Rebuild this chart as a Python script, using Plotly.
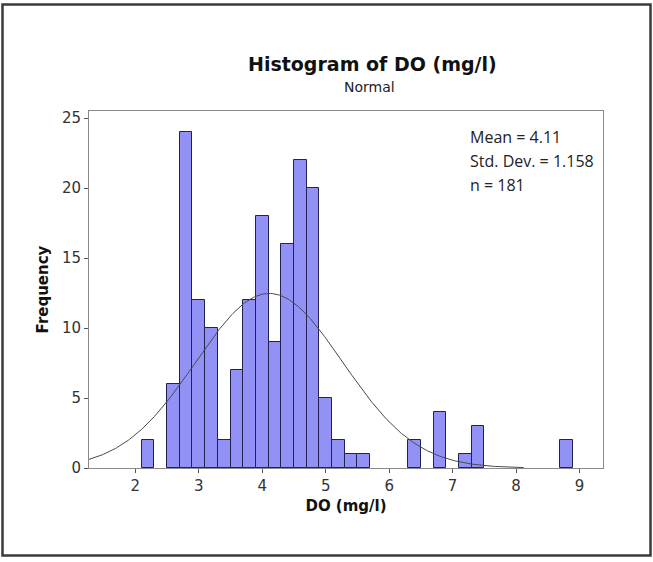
import numpy as np
import plotly.graph_objects as go

# ---- data ----
bin_centers = [2.2, 2.6, 2.8, 3.0, 3.2, 3.4, 3.6, 3.8, 4.0, 4.2, 4.4, 4.6, 4.8,
               5.0, 5.2, 5.4, 5.6, 6.4, 6.8, 7.2, 7.4, 8.8]
counts = [2, 6, 24, 12, 10, 2, 7, 12, 18, 9, 16, 22, 20,
          5, 2, 1, 1, 2, 4, 1, 3, 2]
BIN_WIDTH = 0.2
MEAN = 4.11
SD = 1.158
N = 181
x_ticks = [2, 3, 4, 5, 6, 7, 8, 9]
y_ticks = [0, 5, 10, 15, 20, 25]
CURVE_START, CURVE_END = 1.27, 8.12

# fitted normal curve (from the stated mean / sd / n)
cx = np.linspace(CURVE_START, CURVE_END, 300)
cy = N * BIN_WIDTH * np.exp(-0.5 * ((cx - MEAN) / SD) ** 2) / (SD * np.sqrt(2 * np.pi))

W, H = 653, 562
L, R, T, B = 89, 603, 111, 468


def px(x):
    return (x - L) / (R - L)


def py(y):
    return (B - y) / (B - T)


fig = go.Figure()
fig.add_trace(go.Bar(
    x=bin_centers, y=counts, width=BIN_WIDTH,
    marker=dict(color="#9292F6", line=dict(color="#22224E", width=1)),
    hoverinfo="x+y", showlegend=False,
))
fig.add_trace(go.Scatter(
    x=cx, y=cy, mode="lines",
    line=dict(color="#4a4a4a", width=1), showlegend=False, hoverinfo="skip",
))

axis_common = dict(
    showgrid=False, zeroline=False, showline=True, linecolor="#8a8a8a",
    linewidth=1, mirror=True, ticks="outside", ticklen=4, tickcolor="#555555",
    tickfont=dict(family="DejaVu Sans", size=15, color="#333333"),
)

fig.update_layout(
    width=W, height=H,
    margin=dict(l=L, r=W - R, t=T, b=H - B),
    paper_bgcolor="white", plot_bgcolor="white",
    bargap=0,
    xaxis=dict(range=[1.27, 9.37], tickvals=x_ticks, **axis_common,
               title=dict(text="<b>DO (mg/l)</b>", standoff=6,
                          font=dict(family="DejaVu Sans", size=15, color="#111111"))),
    yaxis=dict(range=[0, 25.5], tickvals=y_ticks, **axis_common,
               title=dict(text="<b>Frequency</b>", standoff=9,
                          font=dict(family="DejaVu Sans", size=15, color="#111111"))),
    annotations=[
        dict(text="<b>Histogram of DO (mg/l)</b>", x=px(372), y=py(64),
             xref="paper", yref="paper", showarrow=False, xanchor="center", yanchor="middle",
             font=dict(family="DejaVu Sans", size=19, color="#111111")),
        dict(text="Normal", x=px(369), y=py(87), xref="paper", yref="paper",
             showarrow=False, xanchor="center", yanchor="middle",
             font=dict(family="DejaVu Sans", size=14, color="#222222")),
        dict(text="Mean = 4.11", x=px(468), y=py(137), xref="paper", yref="paper",
             showarrow=False, xanchor="left", yanchor="middle",
             font=dict(family="Open Sans", size=16, color="#222222")),
        dict(text="Std. Dev. = 1.158", x=px(468), y=py(161), xref="paper", yref="paper",
             showarrow=False, xanchor="left", yanchor="middle",
             font=dict(family="Open Sans", size=16, color="#222222")),
        dict(text="n = 181", x=px(468), y=py(185), xref="paper", yref="paper",
             showarrow=False, xanchor="left", yanchor="middle",
             font=dict(family="Open Sans", size=16, color="#222222")),
    ],
    shapes=[
        dict(type="rect", xref="paper", yref="paper",
             x0=px(2.5), x1=px(650.5), y0=py(555.5), y1=py(4.5),
             line=dict(color="#3a3a3a", width=2.5), fillcolor="rgba(0,0,0,0)",
             layer="above"),
    ],
)

fig.write_html(
    "out.html",
    config={"displayModeBar": False},
    post_script="document.body.style.margin='0';document.body.style.padding='0';",
)
